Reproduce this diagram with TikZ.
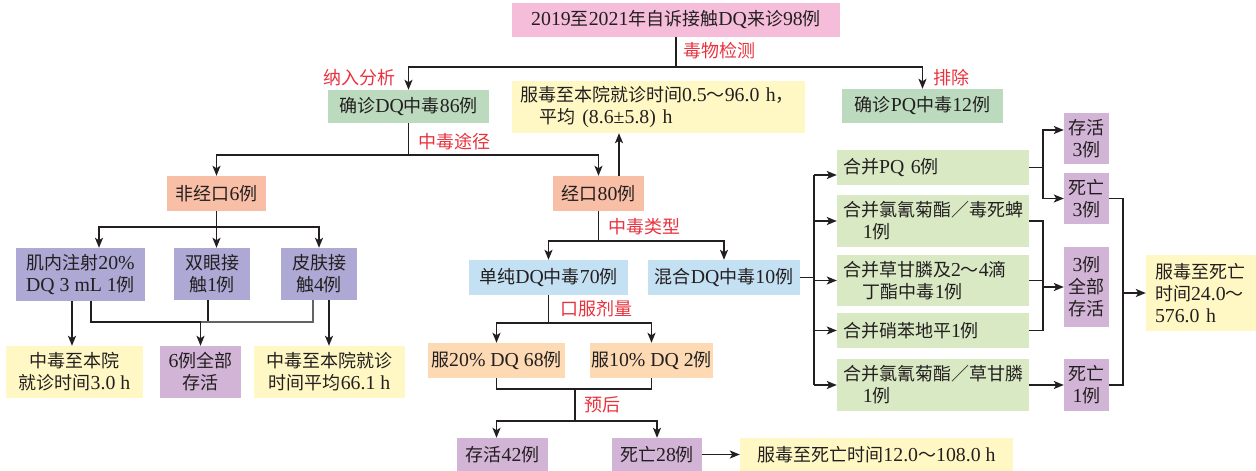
\documentclass[tikz,border=0pt]{standalone}
\usepackage{fontspec}
\setmainfont{Liberation Serif}[Scale=1.1]
\newfontfamily\cjkfont{Noto Sans CJK SC}
\newfontfamily\latfont{Liberation Serif}[Scale=1.1]
\usetikzlibrary{arrows.meta}
\XeTeXinterchartokenstate=1
\newXeTeXintercharclass\cjkcls
\makeatletter
\count@="3000
\loop \XeTeXcharclass\count@=\cjkcls \advance\count@ by 1 \ifnum\count@<"3040 \repeat
\count@="4E00
\loop \XeTeXcharclass\count@=\cjkcls \advance\count@ by 1 \ifnum\count@<"A000 \repeat
\count@="FF00
\loop \XeTeXcharclass\count@=\cjkcls \advance\count@ by 1 \ifnum\count@<"FFF0 \repeat
\makeatother
\XeTeXinterchartoks 0 \cjkcls = {\cjkfont}
\XeTeXinterchartoks 4095 \cjkcls = {\cjkfont}
\XeTeXinterchartoks \cjkcls 0 = {\latfont}
\XeTeXinterchartoks \cjkcls 4095 = {\latfont}
\newcommand\myfs{\fontsize{18}{22}\selectfont}
\definecolor{cpink}{HTML}{F5BDD9}
\definecolor{cgreen}{HTML}{BCDABE}
\definecolor{cyellow}{HTML}{FFF8C4}
\definecolor{csalmon}{HTML}{F9BEA6}
\definecolor{cviolet}{HTML}{ADA8D4}
\definecolor{cmauve}{HTML}{D2B4D7}
\definecolor{cblue}{HTML}{C4E0F3}
\definecolor{cpeach}{HTML}{FDDAB4}
\definecolor{clgreen}{HTML}{D9E9C4}
\definecolor{cred}{HTML}{E8333F}
\definecolor{cline}{HTML}{231F20}
\begin{document}
\begin{tikzpicture}[x=1pt,y=-1pt,
  bx/.style={inner sep=0pt, align=center, font=\myfs, text=cline},
  lbx/.style={inner ysep=0pt, align=left, font=\myfs, text=cline},
  lab/.style={inner sep=0pt, font=\myfs, text=cred},
  ln/.style={line width=1.8pt, draw=cline},
  arr/.style={ln, -{Stealth[length=10pt,width=8pt,inset=2.5pt]}}]
\fill[white] (0,0) rectangle (1256,471);
\useasboundingbox (0,0) rectangle (1256,471);
% nodes
\node[bx, fill=cpink, minimum width=328pt, minimum height=34pt] (top) at (676,20) {2019至2021年自诉接触DQ来诊98例};
\node[bx, fill=cgreen, minimum width=161pt, minimum height=33pt] (dq86) at (408.5,106.5) {确诊DQ中毒86例};
\node[bx, fill=cgreen, minimum width=161pt, minimum height=34pt] (pq12) at (922.5,106) {确诊PQ中毒12例};
\node[lbx, fill=cyellow, inner xsep=8pt, text width=277pt, minimum height=52pt] (ytime) at (658.5,107) {服毒至本院就诊时间0.5～96.0 h，\\\hspace*{1em}平均 (8.6±5.8) h};
\node[bx, fill=csalmon, minimum width=99pt, minimum height=35pt] (nonoral) at (216.5,193.5) {非经口6例};
\node[bx, fill=csalmon, minimum width=91pt, minimum height=35pt] (oral) at (598.5,193.5) {经口80例};
\node[bx, fill=cviolet, minimum width=129pt, minimum height=53pt] (im) at (80.5,274.5) {肌内注射20\%\\DQ 3 mL 1例};
\node[bx, fill=cviolet, minimum width=76pt, minimum height=52pt] (eye) at (212,274) {双眼接\\触1例};
\node[bx, fill=cviolet, minimum width=76pt, minimum height=52pt] (skin) at (319,274) {皮肤接\\触4例};
\node[bx, fill=cyellow, minimum width=137pt, minimum height=52pt] (y3) at (74.5,372) {中毒至本院\\就诊时间3.0 h};
\node[bx, fill=cmauve, minimum width=81pt, minimum height=52pt] (all6) at (200.5,372) {6例全部\\存活};
\node[bx, fill=cyellow, minimum width=151pt, minimum height=52pt] (y66) at (329.5,372) {中毒至本院就诊\\时间平均66.1 h};
\node[bx, fill=cblue, minimum width=159pt, minimum height=35pt] (pure) at (548.5,277.5) {单纯DQ中毒70例};
\node[bx, fill=cblue, minimum width=152pt, minimum height=35pt] (mixed) at (724,277.5) {混合DQ中毒10例};
\node[bx, fill=cpeach, minimum width=137pt, minimum height=35pt] (d20) at (496.5,360.5) {服20\% DQ 68例};
\node[bx, fill=cpeach, minimum width=123pt, minimum height=35pt] (d10) at (651.5,360.5) {服10\% DQ 2例};
\node[bx, fill=cmauve, minimum width=91pt, minimum height=33pt] (surv42) at (502.5,454.5) {存活42例};
\node[bx, fill=cmauve, minimum width=90pt, minimum height=33pt] (dead28) at (657,454.5) {死亡28例};
\node[bx, fill=cyellow, minimum width=273pt, minimum height=33pt] (ydead) at (876.5,454.5) {服毒至死亡时间12.0～108.0 h};
\node[lbx, fill=clgreen, inner xsep=6pt, text width=180pt, minimum height=35pt] (g1) at (933,167.5) {合并PQ 6例};
\node[lbx, fill=clgreen, inner xsep=6pt, text width=180pt, minimum height=52pt] (g2) at (933,221) {合并氯氰菊酯／毒死蜱\\\hspace*{1em}1例};
\node[lbx, fill=clgreen, inner xsep=6pt, text width=180pt, minimum height=51pt] (g3) at (933,280.5) {合并草甘膦及2～4滴\\\hspace*{1em}丁酯中毒1例};
\node[lbx, fill=clgreen, inner xsep=6pt, text width=180pt, minimum height=35pt] (g4) at (933,330.5) {合并硝苯地平1例};
\node[lbx, fill=clgreen, inner xsep=6pt, text width=180pt, minimum height=52pt] (g5) at (933,385) {合并氯氰菊酯／草甘膦\\\hspace*{1em}1例};
\node[bx, fill=cmauve, minimum width=45pt, minimum height=51pt] (p1) at (1086.5,138.5) {存活\\3例};
\node[bx, fill=cmauve, minimum width=45pt, minimum height=51pt] (p2) at (1086.5,198.5) {死亡\\3例};
\node[bx, fill=cmauve, minimum width=45pt, minimum height=80pt] (p3) at (1086.5,287) {3例\\全部\\存活};
\node[bx, fill=cmauve, minimum width=45pt, minimum height=52pt] (p4) at (1086.5,385) {死亡\\1例};
\node[lbx, fill=cyellow, inner xsep=9pt, text width=92pt, minimum height=76pt] (yfinal) at (1201,293) {服毒至死亡\\时间24.0～\\576.0 h};
% labels
\node[lab] (l1) at (719,51) {毒物检测};
\node[lab] (l2) at (359,78) {纳入分析};
\node[lab] (l3) at (951,78) {排除};
\node[lab] (l4) at (454,142) {中毒途径};
\node[lab] (l5) at (644,227) {中毒类型};
\node[lab] (l6) at (596,309) {口服剂量};
\node[lab] (l7) at (602,405) {预后};
% connectors
\coordinate (j1) at (676,67);
\draw[ln] (top.south) -- (j1);
\draw[arr] (j1) -| (dq86.north);
\draw[arr] (j1) -| (pq12.north);
\coordinate (j2) at (408.5,155);
\draw[ln] (dq86.south) -- (j2);
\draw[arr] (j2) -| (nonoral.north);
\draw[arr] (j2) -| (oral.north);
\draw[arr] ([xshift=20.5pt]oral.north) -- ([xshift=20.5pt]oral.north |- ytime.south);
\coordinate (j3) at (216.5,227);
\draw[arr] (nonoral.south) -- (nonoral.south |- eye.north);
\draw[arr] (j3) -| ([xshift=18.5pt]im.north);
\draw[arr] (j3) -| (skin.north);
\coordinate (j4) at (200.5,322);
\draw[arr] ([xshift=-8.5pt]im.south) -- ([xshift=-8.5pt]im.south |- y3.north);
\draw[ln] ([xshift=10.5pt]im.south) |- (j4);
\draw[ln] ([xshift=-4pt]eye.south) -- ([xshift=-4pt]eye.south |- j4);
\draw[ln, line width=1.3pt, draw=cline!70] ([xshift=-6pt]skin.south) |- (j4);
\draw[arr] (j4) -- (all6.north);
\draw[arr] ([xshift=10pt]skin.south) -- ([xshift=10pt]skin.south |- y66.north);
\coordinate (j5) at (598.5,241);
\draw[ln] (oral.south) -- (j5);
\draw[arr] (j5) -| (pure.north);
\draw[arr] (j5) -| (mixed.north);
\coordinate (j6) at (548.5,323);
\draw[ln] (pure.south) -- (j6);
\draw[arr] (j6) -| (d20.north);
\draw[arr] (j6) -| (d10.north);
\coordinate (j7) at (575,389);
\coordinate (j8) at (575,421);
\draw[ln] (d20.south) |- (j7) -| (d10.south);
\draw[ln] (j7) -- (j8);
\draw[arr] (j8) -| (surv42.north -| d20.south);
\draw[arr] (j8) -| (dead28.north);
\draw[arr] (dead28.east) -- (ydead.west);
\coordinate (bt) at (814,175);
\coordinate (bb) at (814,385);
\draw[ln] (bt) -- (bb);
\draw[ln] (mixed.east) -- (mixed.east -| bt);
\draw[arr] (bt) -- ([yshift=-7.5pt]g1.west);
\draw[arr] (g2.west -| bt) -- (g2.west);
\draw[arr] (g3.west -| bt) -- (g3.west);
\draw[arr] (g4.west -| bt) -- (g4.west);
\draw[arr] (bb) -- (g5.west);
\coordinate (k1) at (1043,167.5);
\draw[ln] (g1.east) -- (k1);
\draw[arr] (k1) |- ([yshift=8.5pt]p1.west);
\draw[arr] (k1) |- (p2.west);
\coordinate (k2) at (1043,330.5);
\draw[ln] (g2.east) -| (k2) -- (g4.east);
\draw[ln] (g3.east) -- (g3.east -| k2);
\draw[arr] (p3.west -| k2) -- (p3.west);
\draw[arr] (g5.east) -- (p4.west);
\coordinate (m1) at (1123,293);
\draw[ln] (p2.east) -| (m1) |- (p4.east);
\draw[arr] (m1) -- (yfinal.west);
\end{tikzpicture}
\end{document}
